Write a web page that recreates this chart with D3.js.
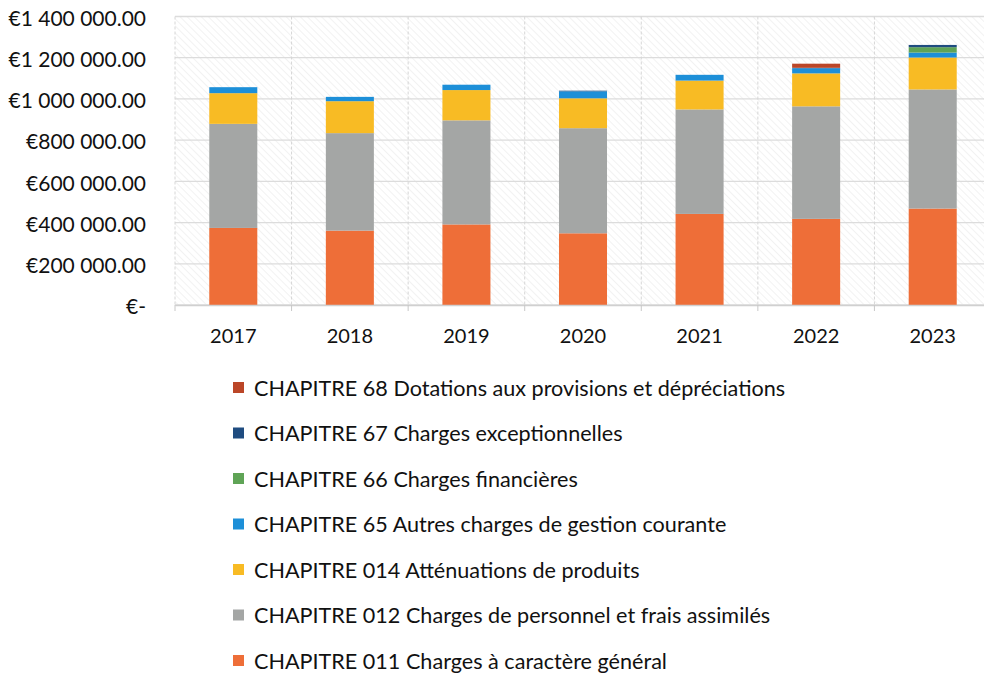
<!DOCTYPE html>
<html><head><meta charset="utf-8">
<script src="https://cdn.jsdelivr.net/npm/d3@7"></script>
<style>
html,body{margin:0;padding:0;background:#fff;}
svg{display:block;font-family:Lato,"Open Sans",sans-serif;}
</style></head>
<body><svg id="c" width="984" height="675"></svg>
<script>
const years = ["2017","2018","2019","2020","2021","2022","2023"];
const seriesNames = [
  "CHAPITRE 011 Charges à caractère général",
  "CHAPITRE 012 Charges de personnel et frais assimilés",
  "CHAPITRE 014 Atténuations de produits",
  "CHAPITRE 65 Autres charges de gestion courante",
  "CHAPITRE 66 Charges financières",
  "CHAPITRE 67 Charges exceptionnelles",
  "CHAPITRE 68 Dotations aux provisions et dépréciations"
];
const ch011 = [374000, 361000, 391000, 348000, 442000, 418000, 468000];
const ch012 = [505000, 473000, 505000, 510000, 507000, 546000, 578000];
const ch014 = [149000, 155000, 147000, 145000, 140000, 160000, 155000];
const ch65  = [ 29000,  21000,  26000,  34000,  28000,  25000,  24000];
const ch66  = [     0,      0,      0,      0,      0,      0,  26000];
const ch67  = [     0,      0,      0,   3000,      0,   2000,  11000];
const ch68  = [     0,      0,      0,      0,      0,  20000,      0];
const yTicks = [0, 200000, 400000, 600000, 800000, 1000000, 1200000, 1400000];
const yTickLabels = ["€-", "€200 000.00", "€400 000.00", "€600 000.00", "€800 000.00", "€1 000 000.00", "€1 200 000.00", "€1 400 000.00"];
const colors = ["#EE6E38", "#A4A6A5", "#F8BB24", "#1D8FD8", "#5FA456", "#1F4C80", "#BB4628"];

const allSeries = [ch011, ch012, ch014, ch65, ch66, ch67, ch68];
const table = years.map((yr, i) => {
  const row = {year: yr};
  seriesNames.forEach((n, k) => row[n] = allSeries[k][i]);
  return row;
});
const stacked = d3.stack().keys(seriesNames)(table);

const svg = d3.select("#c");
const pLeft = 175, pRight = 991, pTop = 16.5, pBottom = 305;
const x = d3.scaleBand().domain(years).range([pLeft, pRight]).paddingInner(0.588).paddingOuter(0.294);
const y = d3.scaleLinear().domain([0, 1400000]).range([pBottom, pTop]);

// hatch pattern
const defs = svg.append("defs");
const pat = defs.append("pattern").attr("id", "hatch").attr("patternUnits", "userSpaceOnUse")
  .attr("width", 5).attr("height", 5).attr("patternTransform", "rotate(-45)");
pat.append("line").attr("x1", 0).attr("y1", 0).attr("x2", 0).attr("y2", 5)
  .attr("stroke", "#e8e8e8").attr("stroke-width", 1.1);

svg.append("rect").attr("x", pLeft).attr("y", pTop).attr("width", pRight - pLeft).attr("height", pBottom - pTop)
  .attr("fill", "url(#hatch)");

// horizontal gridlines
svg.append("g").selectAll("line").data(yTicks).join("line")
  .attr("x1", pLeft).attr("x2", pRight)
  .attr("y1", d => y(d)).attr("y2", d => y(d))
  .attr("stroke", "#dcdcdc").attr("stroke-width", 1.3);

// vertical gridlines at category boundaries
const step = x.step();
const bounds = d3.range(years.length + 1).map(i => pLeft + i * step);
svg.append("g").selectAll("line").data(bounds).join("line")
  .attr("x1", d => d).attr("x2", d => d)
  .attr("y1", pTop).attr("y2", pBottom)
  .attr("stroke", "#d6d6d6").attr("stroke-width", 1).attr("stroke-dasharray", "3,2");

// bars
svg.append("g").selectAll("g").data(stacked).join("g")
  .attr("fill", (d, i) => colors[i])
  .selectAll("rect").data(d => d).join("rect")
  .attr("x", d => x(d.data.year))
  .attr("width", x.bandwidth())
  .attr("y", d => y(d[1]))
  .attr("height", d => Math.max(0, y(d[0]) - y(d[1])));

// x axis
const xAxis = d3.axisBottom(x).tickSize(0).tickPadding(24);
const gx = svg.append("g").attr("transform", `translate(0,${pBottom})`).call(xAxis);
gx.select(".domain").attr("stroke", "#d0d0d0").attr("stroke-width", 1.3);
gx.selectAll("text").attr("font-size", 20).attr("fill", "#111").attr("font-family", "Lato,sans-serif");
svg.append("g").selectAll("line").data(bounds).join("line")
  .attr("x1", d => d).attr("x2", d => d).attr("y1", pBottom).attr("y2", pBottom + 6)
  .attr("stroke", "#c8c8c8");

// y axis labels
const yAxis = d3.axisLeft(y).tickValues(yTicks).tickFormat((d, i) => yTickLabels[i]).tickSize(0).tickPadding(29);
const gy = svg.append("g").attr("transform", `translate(${pLeft},0)`).call(yAxis);
gy.select(".domain").remove();
gy.selectAll("text").attr("font-size", 21).attr("fill", "#111").attr("font-family", "Lato,sans-serif")
  .attr("dy", "0.42em");

// legend (reverse order)
const legendOrder = seriesNames.map((n, i) => ({name: n, color: colors[i]})).reverse();
const lg = svg.append("g").selectAll("g").data(legendOrder).join("g")
  .attr("transform", (d, i) => `translate(233,${388 + i * 45.5})`);
lg.append("rect").attr("x", 0).attr("y", -6).attr("width", 11).attr("height", 11).attr("fill", d => d.color);
lg.append("text").attr("x", 21).attr("y", 0).attr("dy", "0.35em")
  .attr("font-size", 21.6).attr("fill", "#111").text(d => d.name);
</script></body></html>
